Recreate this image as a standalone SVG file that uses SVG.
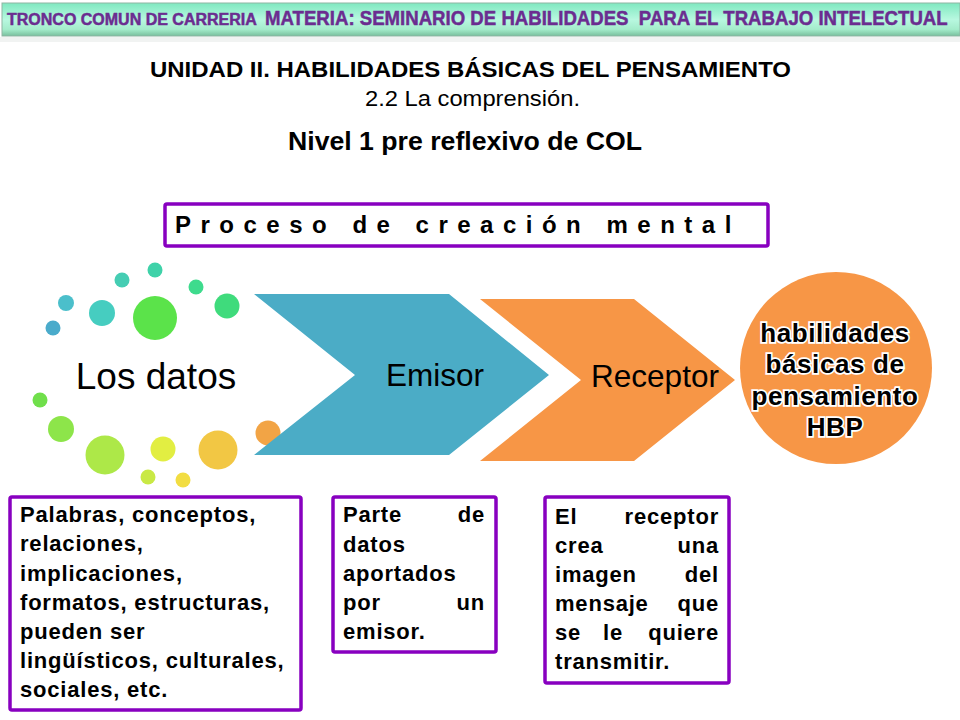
<svg xmlns="http://www.w3.org/2000/svg" width="960" height="720" viewBox="0 0 960 720">
<defs>
<linearGradient id="band" x1="0" y1="0" x2="0" y2="1"><stop offset="0" stop-color="#7fe8c0"/><stop offset="0.5" stop-color="#b8f8e0"/><stop offset="0.8" stop-color="#a4eccb"/><stop offset="1" stop-color="#78bf9d"/></linearGradient>
</defs>
<style>
text{font-family:"Liberation Sans",Arial,sans-serif;fill:#000}
.b{font-weight:bold}
.box{fill:#fff;stroke:#8800c0;stroke-width:3.5}
.t{font-weight:bold;font-size:22px;letter-spacing:0.8px}
.r{text-anchor:end}
.h{font-weight:bold;font-size:26px;text-anchor:middle;stroke:#fff;stroke-width:3.5px;paint-order:stroke;letter-spacing:0.6px}
.top{font-weight:bold;fill:#6b2d90;stroke:#6b2d90;stroke-width:0.5}
</style>
<rect width="960" height="720" fill="#fff"/>
<g id="banner">
<rect x="0" y="37" width="960" height="5" fill="#f1f3f2"/>
<rect x="2" y="3" width="958" height="33" fill="url(#band)" stroke="#8fb5a3" stroke-width="1"/>
<text class="top" x="7" y="25" font-size="16">TRONCO COMUN DE CARRERIA</text>
<text class="top" transform="translate(265,25) scale(0.887,1)" font-size="21" xml:space="preserve">MATERIA: SEMINARIO DE HABILIDADES  PARA EL TRABAJO INTELECTUAL</text>
</g>
<g id="titles">
<text class="b" x="150" y="77" font-size="21.6" textLength="641" lengthAdjust="spacingAndGlyphs">UNIDAD II. HABILIDADES BÁSICAS DEL PENSAMIENTO</text>
<text x="365" y="106" font-size="21.6" textLength="215" lengthAdjust="spacingAndGlyphs" fill="#262626">2.2 La comprensión.</text>
<text class="b" x="288" y="150" font-size="26.7" textLength="354" lengthAdjust="spacingAndGlyphs">Nivel 1 pre reflexivo de COL</text>
</g>
<g id="proceso">
<rect class="box" x="165" y="204" width="603" height="42" rx="2"/>
<text class="b" x="175" y="233" font-size="24" letter-spacing="9.5">Proceso de creación mental</text>
</g>
<g id="datos">
<circle cx="155" cy="270" r="7.5" fill="#3fd2a9"/>
<circle cx="122" cy="280" r="7.5" fill="#45cdb3"/>
<circle cx="196" cy="287" r="7.5" fill="#3edb8d"/>
<circle cx="66" cy="303" r="8" fill="#4bbfcb"/>
<circle cx="102" cy="313" r="13" fill="#46cdc0"/>
<circle cx="155" cy="318" r="22" fill="#5be34a"/>
<circle cx="227" cy="306" r="12.5" fill="#3fdb7c"/>
<circle cx="53" cy="328" r="7.5" fill="#4aabcb"/>
<circle cx="40" cy="400" r="7.5" fill="#70df4b"/>
<circle cx="61" cy="429" r="13" fill="#8de54a"/>
<circle cx="105" cy="455" r="19.5" fill="#ade848"/>
<circle cx="163" cy="449" r="12.5" fill="#e2ee42"/>
<circle cx="218" cy="450" r="19.5" fill="#f2c744"/>
<circle cx="268" cy="433" r="12.5" fill="#f2a445"/>
<circle cx="148" cy="477" r="7.5" fill="#c9e945"/>
<circle cx="183" cy="480" r="7.5" fill="#f2dd42"/>
<text x="156" y="389" font-size="37" text-anchor="middle">Los datos</text>
</g>
<g id="emisor">
<polygon points="254,294 449,294 549,375 449,455 254,455 355,375" fill="#4bacc6"/>
<text x="435" y="386" font-size="31.5" text-anchor="middle">Emisor</text>
</g>
<g id="receptor">
<polygon points="480,299 634,299 735,380 634,461 480,461 581,380" fill="#f79646"/>
<text x="655" y="387" font-size="31.5" text-anchor="middle">Receptor</text>
</g>
<g id="hbp">
<circle cx="836" cy="368" r="96" fill="#f79646"/>
<text class="h" x="835" y="342">habilidades</text>
<text class="h" x="835" y="373">básicas de</text>
<text class="h" x="835" y="405">pensamiento</text>
<text class="h" x="835" y="436">HBP</text>
</g>
<g id="box-datos">
<rect class="box" x="10" y="497" width="291" height="213" rx="2"/>
<text class="t" x="20" y="522">Palabras, conceptos,</text>
<text class="t" x="20" y="551">relaciones,</text>
<text class="t" x="20" y="581">implicaciones,</text>
<text class="t" x="20" y="610">formatos, estructuras,</text>
<text class="t" x="20" y="639">pueden ser</text>
<text class="t" x="20" y="668">lingüísticos, culturales,</text>
<text class="t" x="20" y="697">sociales, etc.</text>
</g>
<g id="box-emisor">
<rect class="box" x="333" y="497" width="163" height="155" rx="2"/>
<text class="t" x="343" y="522">Parte</text><text class="t r" x="485" y="522">de</text>
<text class="t" x="343" y="552">datos</text>
<text class="t" x="343" y="581">aportados</text>
<text class="t" x="343" y="610">por</text><text class="t r" x="485" y="610">un</text>
<text class="t" x="343" y="639">emisor.</text>
</g>
<g id="box-receptor">
<rect class="box" x="545" y="497" width="184" height="186" rx="2"/>
<text class="t" x="555" y="524">El</text><text class="t r" x="719" y="524">receptor</text>
<text class="t" x="555" y="553">crea</text><text class="t r" x="719" y="553">una</text>
<text class="t" x="555" y="582">imagen</text><text class="t r" x="719" y="582">del</text>
<text class="t" x="555" y="611">mensaje</text><text class="t r" x="719" y="611">que</text>
<text class="t" x="555" y="640">se</text><text class="t" x="603" y="640">le</text><text class="t r" x="719" y="640">quiere</text>
<text class="t" x="555" y="669">transmitir.</text>
</g>
</svg>
